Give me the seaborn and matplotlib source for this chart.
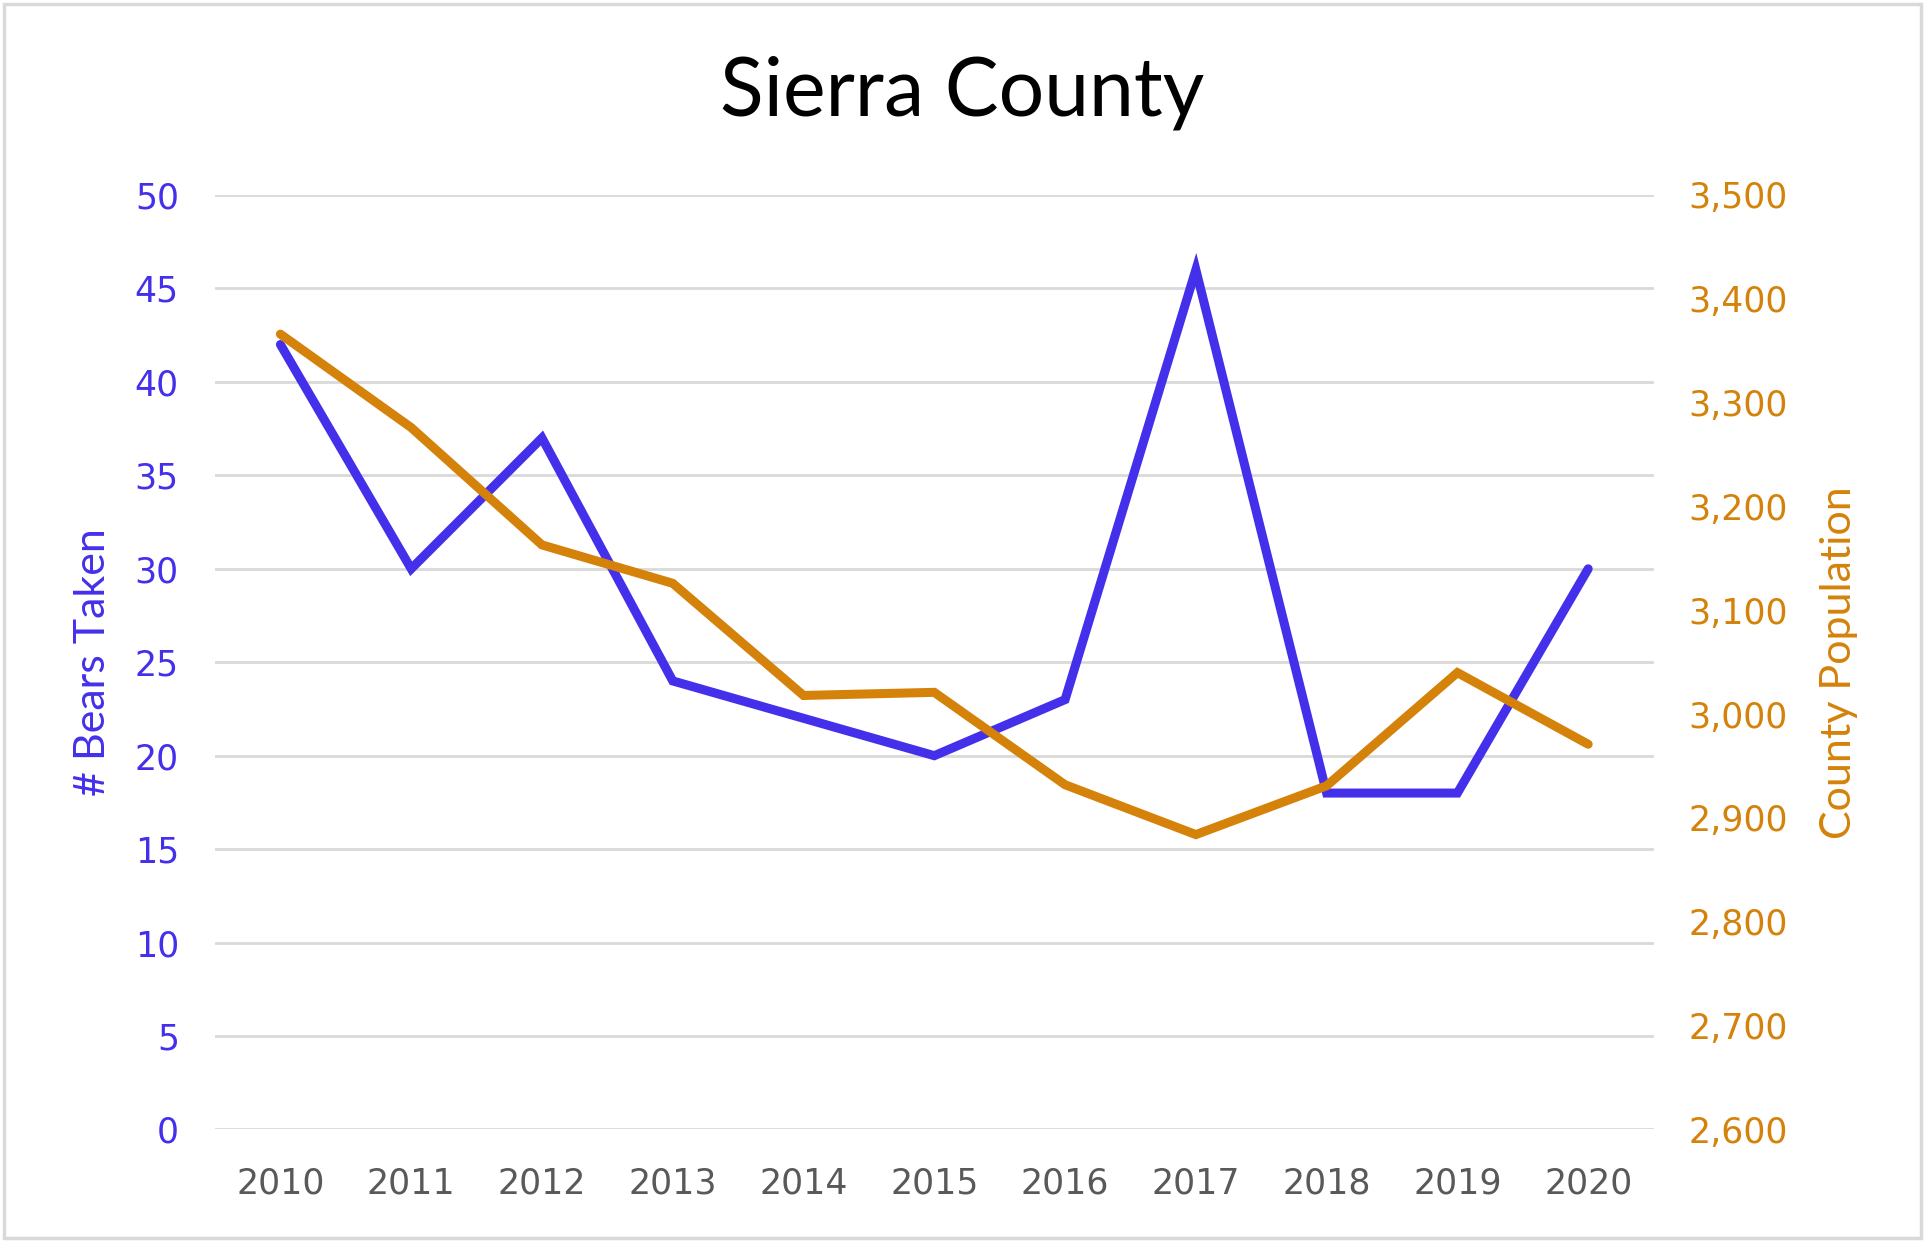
"""
Sierra County: bears taken vs county population, 2010-2020.
"""
import matplotlib
matplotlib.use("Agg")
import matplotlib.pyplot as plt
import matplotlib.ticker as mticker
import pandas as pd
import seaborn as sns

# Dados
years = ["2010", "2011", "2012", "2013", "2014", "2015",
         "2016", "2017", "2018", "2019", "2020"]
bears_taken = [42, 30, 37, 24, 22, 20, 23, 46, 18, 18, 30]
population = [3366, 3276, 3163, 3126, 3018, 3021, 2932, 2884, 2931, 3040, 2971]

BLUE = "#4430EA"
ORANGE = "#D4820A"
GRID = "#D9D9D9"
TICK_GRAY = "#595959"

sns.set_theme(style="white")
plt.rcParams["font.family"] = ["DejaVu Sans"]

df = pd.DataFrame({"year": years, "bears": bears_taken, "pop": population})
df["x"] = range(len(df))

fig = plt.figure(figsize=(19.25, 12.42), dpi=100)
ax = fig.add_axes([0.1117, 0.0906, 0.7473, 0.7524])
ax2 = ax.twinx()

sns.lineplot(data=df, x="x", y="bears", ax=ax, color=BLUE, linewidth=6.5,
             solid_joinstyle="miter", zorder=3)
sns.lineplot(data=df, x="x", y="pop", ax=ax2, color=ORANGE, linewidth=6.5,
             solid_joinstyle="miter", zorder=3)

ax.set_xlim(-0.5, len(years) - 0.5)
ax.set_ylim(0, 50)
ax.set_yticks(range(0, 51, 5))
ax2.set_ylim(2600, 3500)
ax2.set_yticks(range(2600, 3501, 100))
ax2.yaxis.set_major_formatter(mticker.StrMethodFormatter("{x:,.0f}"))

ax.set_xticks(df["x"])
ax.set_xticklabels(years)

ax.yaxis.grid(True, color=GRID, linewidth=2)
ax.set_axisbelow(True)
for a in (ax, ax2):
    for s in a.spines.values():
        s.set_visible(False)
    a.tick_params(length=0)

ax.tick_params(axis="x", labelsize=25, labelcolor=TICK_GRAY, pad=27)
ax.tick_params(axis="y", labelsize=25, labelcolor=BLUE, pad=26)
ax2.tick_params(axis="y", labelsize=25, labelcolor=ORANGE, pad=25)

label_font = ["Lato", "DejaVu Sans"]
ax.set_xlabel("")
ax.set_ylabel("# Bears Taken", fontsize=31, color=BLUE, family=label_font,
              labelpad=16)
ax2.set_ylabel("County Population", fontsize=31, color=ORANGE,
               family=label_font, labelpad=23)

fig.suptitle("Sierra County", fontsize=58, x=0.5, y=0.955, color="black",
             family=label_font)

# moldura cinza em volta da figura
fig.patches.append(plt.Rectangle((0.002, 0.003), 0.996, 0.994,
                                 transform=fig.transFigure, fill=False,
                                 edgecolor=GRID, linewidth=2.5))

plt.savefig("out.png", dpi=100)
plt.close(fig)
